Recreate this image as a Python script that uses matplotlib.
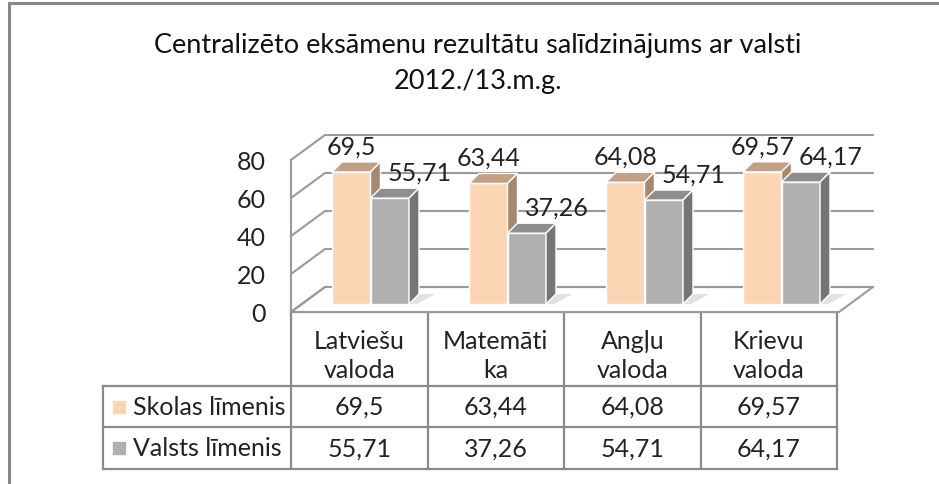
import matplotlib.pyplot as plt
from matplotlib.patches import Polygon

plt.rcParams['font.family'] = ['Lato', 'DejaVu Sans']

title = 'Centralizēto eksāmenu rezultātu salīdzinājums ar valsti\n2012./13.m.g.'
categories = ['Latviešu\nvaloda', 'Matemāti\nka', 'Angļu\nvaloda', 'Krievu\nvaloda']
series_names = ['Skolas līmenis', 'Valsts līmenis']
skolas = [69.5, 63.44, 64.08, 69.57]
valsts = [55.71, 37.26, 54.71, 64.17]
yticks = [0, 20, 40, 60, 80]

front_cols = ['#FCD5B5', '#B0B0B0']
top_cols = ['#C2A085', '#8E8E8E']
side_cols = ['#A5886F', '#757575']
grid_col = '#9a9a9a'
line_col = '#8a8a8a'
fs = 18


def fmt(v):
    return f'{v:g}'.replace('.', ',')


W, H = 939, 485
fig = plt.figure(figsize=(W / 100, H / 100), dpi=100)

# overlay in pixel coords for frame, title and the data table
ov = fig.add_axes([0, 0, 1, 1], zorder=1)
ov.set_xlim(0, W)
ov.set_ylim(H, 0)
ov.axis('off')

# plot area (front plane of the 3d box)
ax = fig.add_axes([291 / W, (H - 313) / H, 548 / W, 152 / H], zorder=2)
ax.patch.set_visible(False)
ax.set_xlim(-0.5, 3.5)
ax.set_ylim(0, 80)
for sp in ax.spines.values():
    sp.set_visible(False)
ax.set_xticks([])
ax.set_yticks(yticks)
ax.tick_params(axis='y', length=0, pad=18, labelsize=fs, labelcolor='#222222')

# depth offsets (data units)
bx, by = 34 / 137, 25 / 1.9      # back wall
ox, oy = 11 / 137, 8 / 1.9       # bar front plane
dx, dy = 10 / 137, 10 / 1.9      # bar depth
bw = 38.5 / 137

# floor
ax.add_patch(Polygon([(-0.5, 0), (3.5, 0), (3.5 + bx, by), (-0.5 + bx, by)],
                     closed=True, fc='white', ec=grid_col, lw=1.5, clip_on=False, zorder=1))
# gridlines on the back and left walls
for t in yticks:
    ax.plot([-0.5, -0.5 + bx, 3.5 + bx], [t, t + by, t + by], color=grid_col, lw=1.5,
            clip_on=False, zorder=1)
ax.plot([-0.5, -0.5], [0, 80], color=grid_col, lw=1.5, clip_on=False, zorder=1)

series = [skolas, valsts]
z = 3
for i in range(len(categories)):
    for s, vals in enumerate(series):
        v = vals[i]
        x0 = i + ox - bw + s * bw
        x1 = x0 + bw
        # floor shadow
        ax.add_patch(Polygon([(x1, oy), (x1 + dx, oy + dy), (x1 + dx + 0.12, oy + dy), (x1 + 0.06, oy)],
                             closed=True, fc='#e2e2e2', ec='none', clip_on=False, zorder=z))
        ax.bar(x0, v, width=bw, bottom=oy, align='edge', color=front_cols[s],
               edgecolor='white', lw=1, clip_on=False, zorder=z + 1)
        ax.add_patch(Polygon([(x0, v + oy), (x1, v + oy), (x1 + dx, v + oy + dy), (x0 + dx, v + oy + dy)],
                             closed=True, fc=top_cols[s], ec='white', lw=1, clip_on=False, zorder=z + 1))
        ax.add_patch(Polygon([(x1, oy), (x1, v + oy), (x1 + dx, v + oy + dy), (x1 + dx, oy + dy)],
                             closed=True, fc=side_cols[s], ec='white', lw=1, clip_on=False, zorder=z + 1))
        lx = 0 if s == 0 else 30
        ax.annotate(fmt(v), xy=(x0 + bw / 2, v + oy), xytext=(lx, 26),
                    textcoords='offset pixels', ha='center', va='center',
                    fontsize=fs, color='#222222', zorder=20, annotation_clip=False)
        z += 2

# outer frame (top and left edges visible)
ov.plot([9, W], [4, 4], color='#888888', lw=2.2)
ov.plot([9, 9], [4, H], color='#888888', lw=2.2)

# title
tl = title.split('\n')
ov.text(478, 45, tl[0], ha='center', va='center', fontsize=19.5, color='#111111')
ov.text(478, 82, tl[1], ha='center', va='center', fontsize=19.5, color='#111111')

# data table
cx = [291 + 136.5 * k for k in range(5)]
ry = [313, 387, 428, 470]
lk = dict(color=line_col, lw=1.6, solid_capstyle='projecting')
for xx in cx:
    ov.plot([xx, xx], [ry[0], ry[3]], **lk)
ov.plot([cx[0], cx[-1]], [ry[0], ry[0]], **lk)
for yy in ry[1:]:
    ov.plot([103, cx[-1]], [yy, yy], **lk)
ov.plot([103, 103], [ry[1], ry[3]], **lk)

for k, c in enumerate(categories):
    ov.text((cx[k] + cx[k + 1]) / 2, 356, c, ha='center', va='center',
            fontsize=fs, color='#222222', linespacing=1.3)
for s, vals in enumerate(series):
    yc = (ry[s + 1] + ry[s + 2]) / 2
    ov.add_patch(plt.Rectangle((113, yc - 6), 12, 12, color=front_cols[s]))
    ov.text(133, yc, series_names[s], ha='left', va='center', fontsize=fs, color='#222222')
    for k, v in enumerate(vals):
        ov.text((cx[k] + cx[k + 1]) / 2, yc, fmt(v), ha='center', va='center',
                fontsize=fs, color='#222222')

fig.savefig('out.png', dpi=100)
